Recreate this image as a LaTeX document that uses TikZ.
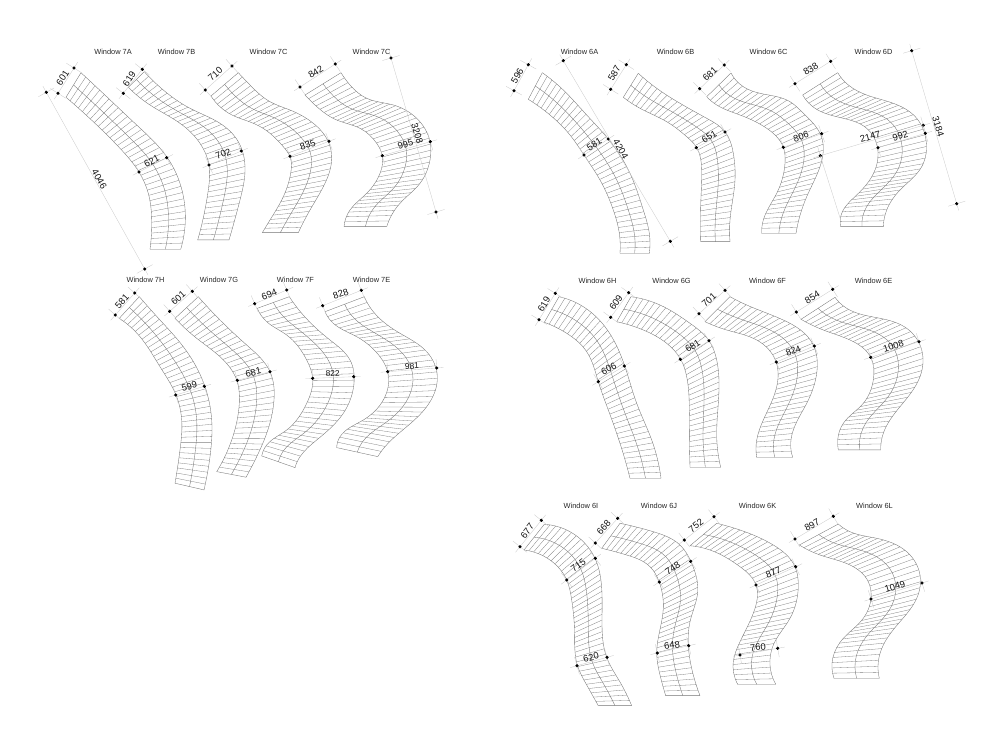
\documentclass[tikz,border=0pt]{standalone}
\usepackage{fontspec}
\setmainfont{Liberation Sans}
\usetikzlibrary{calc,decorations.markings,hobby}
\tikzset{
  edgeline/.style={draw=black!55,line width=0.35pt},
  slatline/.style={draw=black!50,line width=0.3pt},
  dimline/.style={draw=black!20,line width=0.35pt},
  dimdot/.style={fill=black},
  dimtext/.style={font=\fontsize{9.4}{10}\selectfont,inner sep=0pt,text=black!92},
  wintext/.style={font=\fontsize{7.4}{8}\selectfont,inner sep=0pt,text=black!85},
  slatmarks/.style 2 args={decoration={markings,
    mark=between positions 0 and 0.995 step 1/#2 with
      {\coordinate (#1\pgfkeysvalueof{/pgf/decoration/mark info/sequence number});},
    mark=at position 0.9995 with {\coordinate (#1end);}},postaction={decorate}}
}
% slats, left edge, right edge
\newcommand{\louvre}[3]{
\draw[edgeline,slatmarks={L}{#1}] plot[hobby] coordinates {#2};
\draw[edgeline,slatmarks={R}{#1}] plot[hobby] coordinates {#3};
\draw[edgeline] (L1)--(R1);
\draw[edgeline] (Lend)--(Rend);
\foreach \k in {2,...,#1} {\draw[slatline] (L\k)--(R\k);}
\foreach \k [remember=\k as \p (initially 1)] in {2,...,#1}
  {\draw[edgeline] ($(L\p)!.5!(R\p)$)--($(L\k)!.5!(R\k)$);}
\draw[edgeline] ($(L#1)!.5!(R#1)$)--($(Lend)!.5!(Rend)$);
}
% name, first dot, second dot, label position, label angle, label
\newcommand{\sizemark}[6]{
\coordinate (#1a) at (#2);
\coordinate (#1b) at (#3);
\draw[dimline] ($(#1a)!-7pt!(#1b)$)--($(#1b)!-7pt!(#1a)$);
\draw[dimline] ($(#1a)!9pt!90:(#1b)$)--($(#1a)!-9pt!90:(#1b)$);
\draw[dimline] ($(#1b)!9pt!90:(#1a)$)--($(#1b)!-9pt!90:(#1a)$);
\filldraw[dimdot] (#1a) circle[radius=1.4pt];
\filldraw[dimdot] (#1b) circle[radius=1.4pt];
\node[dimtext,rotate=#5] (#1t) at (#4) {#6};
}
\begin{document}
\begin{tikzpicture}[x=1pt,y=-1pt]
\useasboundingbox (0,0) rectangle (1000,750);
% window titles
\node[wintext] (t7a) at (113,51.5) {Window 7A};
\node[wintext] (t7b) at (176.5,51.5) {Window 7B};
\node[wintext] (t7c) at (268.5,51.5) {Window 7C};
\node[wintext] (t7d) at (371.5,51.5) {Window 7C};
\node[wintext] (t6a) at (579.5,51.5) {Window 6A};
\node[wintext] (t6b) at (675.5,51.5) {Window 6B};
\node[wintext] (t6c) at (768.5,51.5) {Window 6C};
\node[wintext] (t6d) at (873.5,51.5) {Window 6D};
\node[wintext] (t7h) at (145.5,279.5) {Window 7H};
\node[wintext] (t7g) at (219,279.5) {Window 7G};
\node[wintext] (t7f) at (295.5,279.5) {Window 7F};
\node[wintext] (t7e) at (371.5,279.5) {Window 7E};
\node[wintext] (t6h) at (597.5,280.5) {Window 6H};
\node[wintext] (t6g) at (671.5,280.5) {Window 6G};
\node[wintext] (t6f) at (767.5,280.5) {Window 6F};
\node[wintext] (t6e) at (873.5,280.5) {Window 6E};
\node[wintext] (t6i) at (581,505.5) {Window 6I};
\node[wintext] (t6j) at (659,505.5) {Window 6J};
\node[wintext] (t6k) at (757.5,505.5) {Window 6K};
\node[wintext] (t6l) at (874.5,505.5) {Window 6L};
% first row, 7
\louvre{34}{(66,97.3)(93.3,121.7)(120,148.3)(139,172)(148.3,193.3)(151.7,220)(150,249.3)}
{(81,72.7)(106.7,96.7)(136.7,125)(166.7,156.7)(180,183.3)(185.3,213.3)(180.7,249.3)}
\sizemark{a1}{58,93.3}{74,68}{62.7,77.7}{57}{601}
\sizemark{a2}{46.3,92.3}{144.7,269}{99.3,179.3}{-60}{4046}
\sizemark{a3}{139,172}{166.7,157.7}{151.7,161}{27}{621}
\louvre{35}{(128.3,87.3)(150,105)(180,123.3)(200,143.3)(209,165)(208.3,190)(197.7,240)}
{(144.3,71.7)(163.3,90)(190,108.3)(220,123.3)(238.3,141.7)(245,171.7)(240,200)(229,240)}
\sizemark{b1}{123.3,93.3}{142.3,69.3}{129.3,79}{57}{619}
\sizemark{b2}{209,165}{241.3,151}{223.3,154}{22}{702}
\louvre{36}{(211,96)(232,115)(255,124)(270,133.3)(283.3,146.7)(290,156.7)(290.7,173.3)(283.3,196.7)(270,220)(262.3,232.7)}
{(238.3,72.7)(250,85)(270,101.7)(290,110)(313.3,123.3)(328.3,141.7)(331.7,158.3)(325,183.3)(310,210)(298.3,232.7)}
\sizemark{c1}{205.3,90}{232,66}{215.3,74.3}{42}{710}
\sizemark{c2}{290,156.3}{329,141.3}{307.7,145}{20}{835}
\louvre{36}{(305,95)(315,105)(336.7,120)(360,128.3)(376.7,143.3)(382.3,155.7)(380,173.3)(366.7,193.3)(350,210)(344,226.7)}
{(341,72.7)(350,85)(366.7,98.3)(393.3,105)(416.7,118.3)(430,141.7)(430,160)(420,183.3)(400,203.3)(386.7,226.7)}
\sizemark{d1}{300,87}{335.3,64}{315.7,72}{32}{842}
\sizemark{d2}{391,58}{436,212}{417.3,134}{-73}{3208}
\sizemark{d3}{382.3,155.7}{430.3,141.7}{405.3,144.3}{17}{995}
% first row, 6
\louvre{36}{(528.3,99.3)(550,115)(570,135)(584,155)(600,180)(613.3,210)(619.3,233.3)(620,253.3)}
{(542.3,72.7)(563.3,90)(586.7,115)(608.3,139)(630,173.3)(643.3,210)(649.3,233.3)(649.3,253.3)}
\sizemark{e1}{514,90.7}{528.3,64.7}{517.3,75.7}{60}{596}
\sizemark{e2}{584,155}{608.3,139}{594.3,144.3}{32}{581}
\sizemark{e3}{563.3,60.7}{670.3,241.3}{620.7,149}{-60}{4204}
\louvre{36}{(623.3,97.3)(640,108.3)(666.7,121.7)(686.7,136.7)(696.7,147.7)(701.7,170)(701,196.7)(700.7,241.7)}
{(638.3,73.3)(656.7,88.3)(680,103.3)(706.7,118.3)(725,131.7)(733.3,153.3)(735,180)(730,220)(730,241.7)}
\sizemark{f1}{610.7,89.3}{626.3,64.7}{614.3,73.3}{60}{587}
\sizemark{f2}{696.3,147.7}{725,132}{709.3,136.7}{30}{651}
\louvre{37}{(706.7,96.7)(716.7,105)(740,115)(766.7,128.3)(783.3,147.3)(785,163.3)(776.7,193.3)(763.3,220)(761.7,233.3)}
{(731,73)(743.3,86.7)(760,93.3)(790,101.7)(803.3,113.3)(820,133.3)(823.3,146.7)(820,166.7)(806.7,196.7)(796,233.3)}
\sizemark{g1}{699.7,88.7}{724.3,65}{710,74}{43}{681}
\sizemark{g2}{783.3,147.3}{821.7,133.7}{801,136.7}{18}{806}
\louvre{37}{(802.7,95)(815,108.3)(843.3,118.3)(866.7,128.3)(877.3,146.7)(875,170)(856.7,195)(841.7,213.3)(840.7,226.7)}
{(837.7,72.7)(848.3,85)(866.7,95)(893.3,103.3)(916.7,118.3)(926,140)(921.7,166.7)(900,190)(886.7,210)(883.3,226.7)}
\sizemark{h1}{795,83.7}{830.7,61.3}{810.7,69}{32}{838}
\sizemark{h2}{820.3,155.7}{923.3,125.3}{870.3,136.7}{16}{2147}
\sizemark{h3}{878,147.7}{925.3,133.3}{900.3,136}{16}{992}
\sizemark{h4}{911.7,50.7}{956.7,203.7}{938.3,126.3}{-73}{3184}
\draw[dimline] (h2a)--(840.7,220);
% second row, 7
\louvre{36}{(119.3,318.3)(140,336.7)(160,366.7)(176,395)(181.7,420)(180,450)(175,483.3)}
{(139.3,296.7)(160,320)(183.3,346.7)(205,386.7)(211.7,420)(210,456.7)(204,490)}
\sizemark{i1}{115.3,315}{134.7,293}{122,301.7}{48}{581}
\sizemark{i2}{175.7,395}{204.3,386.3}{189.3,386.3}{15}{599}
\louvre{35}{(175,318.3)(196.7,338.3)(220,356.7)(236.7,380)(239.3,403.3)(231.7,440)(216.7,471.7)}
{(198.3,296.7)(220,320)(246.7,345)(270,371.7)(274,400)(266.7,433.3)(256.7,456.7)(246,477.3)}
\sizemark{j1}{169.7,311.3}{192.3,291.3}{178.3,298.3}{42}{601}
\sizemark{j2}{237.3,380.3}{270,371.7}{253.3,372.3}{13}{681}
\louvre{34}{(257.3,308.3)(266.7,321.7)(286.7,335)(306.7,360)(312.7,378.3)(306.7,403.3)(286.7,430)(266.7,445)(261.7,456)}
{(289.3,296.7)(301.7,313.3)(330,340)(350,360)(354,383.3)(343.3,413.3)(316.7,440)(300,456.7)(295,467.7)}
\sizemark{k1}{254.7,303.7}{286.7,290}{269.3,294.3}{22}{694}
\sizemark{k2}{312.7,378.3}{353.7,376.7}{332.7,373.3}{2}{\fontsize{8.4}{9}\selectfont 822}
\louvre{34}{(325,311.7)(333.3,323.3)(356.7,336.7)(380,356.7)(387.7,371.7)(383.3,400)(363.3,420)(340,436.7)(336.7,447.7)}
{(364.3,296.7)(373.3,311.7)(400,333.3)(426.7,351.7)(437.3,376.7)(426.7,406.7)(406.7,426.7)(385,446.7)(377.7,456.7)}
\sizemark{l1}{322.7,305.7}{361.3,290.3}{340.7,294}{20}{828}
\sizemark{l2}{387.7,371.7}{436.7,368}{412,366}{3}{\fontsize{8.4}{9}\selectfont 981}
% second row, 6
\louvre{36}{(544.3,322.3)(566.7,333.3)(586.7,351.7)(598.3,381.7)(608.3,410)(620,443.3)(630,478.3)}
{(559,296.7)(583.3,306.7)(605,326.7)(625,366.7)(636.7,403.3)(651.7,440)(661,478.3)}
\sizemark{m1}{539,319.7}{555.3,293.3}{544,304.3}{60}{619}
\sizemark{m2}{598.3,381.7}{624.3,366}{608.7,368.7}{28}{606}
\louvre{36}{(616.7,321.7)(643.3,330)(666.7,343.3)(680.7,359.3)(686.7,376.7)(689.3,420)(690,467.3)}
{(631,296.7)(660,305)(690,323.3)(709,340.7)(716.7,360)(718.3,403.3)(716.7,436.7)(720.7,467.3)}
\sizemark{n1}{610.7,317.3}{628.7,292.7}{616,302.3}{55}{609}
\sizemark{n2}{680.3,359.3}{709,340.7}{692.7,346}{33}{681}
\louvre{36}{(705,321.7)(726.7,330)(756.7,340)(776,361.7)(776.7,386.7)(763.3,420)(756.7,440)(756.7,457.3)}
{(730,296.7)(746.7,305)(783.3,320)(813.3,345)(817.3,366.7)(806.7,403.3)(793.3,430)(790.7,443.3)(792.7,457.3)}
\sizemark{o1}{699,313.7}{725,290.3}{709,300}{42}{701}
\sizemark{o2}{776.3,362}{814.3,346}{793.3,351}{22}{824}
\louvre{36}{(801,319.3)(823.3,330)(850,340)(870.7,357.3)(873.3,380)(863.3,403.3)(843.3,423.3)(837.7,440)(838.3,450)}
{(835,297.3)(846.7,308.3)(880,318.3)(906.7,328.3)(921.7,350)(920,376.7)(900,406.7)(883.3,433.3)(880.7,450)}
\sizemark{p1}{796.3,312}{832.7,289.3}{812.3,297.3}{32}{854}
\sizemark{p2}{870.7,357.3}{919,341.7}{893.3,346}{17}{1008}
% third row, 6
\louvre{38}{(524,550)(550,560)(566.7,580)(571.7,600)(574.5,630)(577.3,665)(586.7,685)(598.3,705.7)}
{(544.3,524.3)(570,531.7)(595,558.3)(601.7,588.3)(602,621.7)(606.7,657.3)(620,682)(631.7,705.7)}
\sizemark{q1}{520,546.7}{541.3,520.3}{527.3,531}{52}{677}
\sizemark{q2}{566.7,580}{595.3,558.3}{578.3,565.7}{37}{715}
\sizemark{q3}{577,665.7}{607,657.3}{591,657.3}{14}{620}
\louvre{38}{(601.7,548.3)(626.7,555)(650,566.7)(659.3,582.3)(663.3,608.3)(656.7,653.3)(660,675)(665.7,695.7)}
{(620,523.3)(653.3,531.7)(680,545)(691.7,563.3)(697.7,591.7)(690,621.7)(688.3,645)(693.3,675)(700,695.7)}
\sizemark{r1}{595.3,543}{617.7,518.3}{603.7,527.7}{48}{668}
\sizemark{r2}{659.3,582}{690.7,561.3}{672.7,568.3}{33}{748}
\sizemark{r3}{657.3,653}{688.7,645.7}{672,645.3}{8}{648}
\louvre{36}{(690,545.7)(710,550)(740,566.7)(756,585)(755,608.3)(740,641.7)(733.3,661.7)(737.7,684.3)}
{(716.7,523.3)(740,530)(773.3,545)(795,566.7)(798.3,585)(790,618.3)(773.3,645)(770,665)(775.7,684.3)}
\sizemark{s1}{684.3,540}{714,516.7}{696,525.7}{38}{752}
\sizemark{s2}{756,585}{795.7,566.7}{773.3,572.7}{22}{877}
\sizemark{s3}{740,655}{777.7,648.3}{758,647.3}{5}{760}
\louvre{36}{(799.3,545)(820,555)(850,565)(868.3,581.7)(871,598.3)(863.3,618.3)(843.3,638.3)(832.7,658.3)(834,678.3)}
{(838.3,524)(850,531.7)(876.7,538.3)(906.7,551.7)(920,575)(916.7,598.3)(900,621.7)(883.3,645)(878.3,661.7)(879.3,678.3)}
\sizemark{u1}{795,539}{833.3,516.3}{812,525}{30}{897}
\sizemark{u2}{871,599}{922,583}{895,586.7}{17}{1049}
\end{tikzpicture}
\end{document}
